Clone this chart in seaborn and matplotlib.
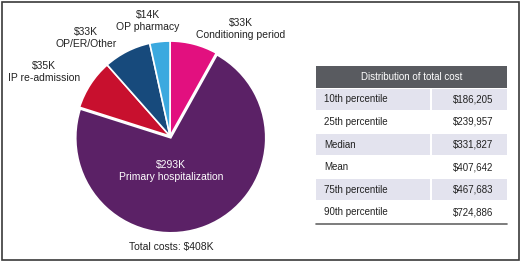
import matplotlib
matplotlib.use("Agg")
import matplotlib.pyplot as plt
import seaborn as sns
from matplotlib.patches import Rectangle

# pie data (clockwise from the top)
cost_labels = ["Conditioning period", "Primary hospitalization", "IP re-admission",
               "OP/ER/Other", "OP pharmacy"]
cost_values = [33, 293, 35, 33, 14]
cost_colors = ["#E2107F", "#5B2166", "#C8102E", "#174A7C", "#3BA9DF"]
total_cost = 408

# table data
stat_names = ["10th percentile", "25th percentile", "Median", "Mean",
              "75th percentile", "90th percentile"]
stat_values = [186205, 239957, 331827, 407642, 467683, 724886]

sns.set_style("white")
plt.rcParams["font.family"] = ["Liberation Sans", "DejaVu Sans"]

W, H = 520, 261
fig = plt.figure(figsize=(W / 100, H / 100), dpi=100)

# pie axes, center at (171, 137) px, radius 95 px
cx, cy, r = 171, 137, 95
box = 100
pax = fig.add_axes([(cx - box) / W, (H - cy - box) / H, 2 * box / W, 2 * box / H])
explode = [0.02 if v == max(cost_values) else 0 for v in cost_values]
pax.pie(cost_values, colors=cost_colors, startangle=90, counterclock=False,
        explode=explode, center=(-0.01, 0.01),
        wedgeprops=dict(edgecolor="white", linewidth=1.2))
pax.set_xlim(-box / r, box / r)
pax.set_ylim(-box / r, box / r)
pax.set_aspect("equal")
pax.axis("off")

# overlay axes in pixel coordinates
ax = fig.add_axes([0, 0, 1, 1], facecolor="none")
ax.set_xlim(0, W)
ax.set_ylim(H, 0)
ax.axis("off")

# outer border
ax.add_patch(Rectangle((1.5, 1.5), W - 3, H - 3, fill=False, edgecolor="#3a3a3a", lw=1.2))

# slice labels
label_pos = {
    "Conditioning period": (241, 29),
    "Primary hospitalization": (171, 171),
    "IP re-admission": (44, 72),
    "OP/ER/Other": (86, 38),
    "OP pharmacy": (148, 21),
}
for name, val in zip(cost_labels, cost_values):
    x, y = label_pos[name]
    col = "white" if name == "Primary hospitalization" else "#222222"
    ax.text(x, y, f"${val}K\n{name}", ha="center", va="center", fontsize=7.5,
            color=col, linespacing=1.3)

ax.text(cx, 247, f"Total costs: ${total_cost}K", ha="center", va="center",
        fontsize=7.5, color="#222222")

# table
tx0, tx1, split = 316, 507, 431
ty0, head_h, row_h = 66, 22, 22.6
ax.add_patch(Rectangle((tx0, ty0), tx1 - tx0, head_h, color="#595B60", lw=0))
ax.text((tx0 + tx1) / 2, ty0 + head_h / 2, "Distribution of total cost", ha="center",
        va="center", fontsize=7, color="white")
for i, (name, val) in enumerate(zip(stat_names, stat_values)):
    y = ty0 + head_h + i * row_h
    if i % 2 == 0:
        ax.add_patch(Rectangle((tx0, y + 1), split - tx0 - 1, row_h - 2, color="#E3E3EE", lw=0))
        ax.add_patch(Rectangle((split + 1, y + 1), tx1 - split - 1, row_h - 2, color="#E3E3EE", lw=0))
    ax.text(tx0 + 8, y + row_h / 2, name, ha="left", va="center", fontsize=7, color="#222222")
    ax.text(tx1 - 14, y + row_h / 2, f"${val:,}", ha="right", va="center", fontsize=7,
            color="#222222")
yb = ty0 + head_h + len(stat_names) * row_h
ax.plot([tx0, tx1], [yb, yb], color="#666666", lw=1.2)

fig.savefig("out.png", dpi=100)
